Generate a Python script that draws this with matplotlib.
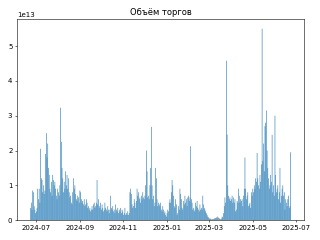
import numpy as np
import pandas as pd
import matplotlib
matplotlib.use('Agg')
import matplotlib.pyplot as plt

start_date = '2024-06-24'
# daily volume, units of 1e13 in chunks
vol_jun_jul = [0.35, 0.5, 0.3, 0.85, 0.8, 0.4, 0.3, 0.2, 0.25, 0.35, 0.9, 0.6, 0.9, 0.5, 2.05]
vol_jul_aug = [1.2, 1.15, 0.8, 1.0, 0.75, 0.85, 1.9, 2.5, 1.8, 2.2, 1.5, 1.3, 0.9, 0.8, 1.1,
               0.7, 1.3, 1.15, 1.0, 1.1, 0.9, 0.7, 0.6, 0.9, 0.8, 0.7, 1.0, 3.23, 2.25, 1.5, 1.2]
vol_aug_sep = [0.8, 1.1, 0.9, 1.4, 1.0, 1.3, 0.9, 1.2, 0.8, 0.65, 0.7, 0.5, 0.45, 0.8, 1.2, 0.9,
               1.0, 0.75, 0.6, 0.55, 0.7, 0.65, 0.5, 0.85, 0.8, 0.6, 0.5, 0.55, 0.45, 0.6, 0.4,
               0.45, 0.6, 0.5, 0.35, 0.4, 0.3, 0.35, 0.25, 0.3, 0.4, 0.3, 0.45, 0.5, 0.35, 0.4,
               0.5, 1.15]
vol_oct_nov = [0.45, 0.6, 0.4, 0.35, 0.5, 0.3, 0.45, 0.35, 0.25, 0.3, 0.5, 0.35, 0.3, 0.25,
               0.4, 0.3, 0.2, 0.3, 0.7, 0.35, 0.3, 0.4, 0.25, 0.3, 0.2, 0.45, 0.3, 0.25, 0.35,
               0.2, 0.3, 0.25, 0.35, 0.2, 0.3, 0.25, 0.15, 0.2, 0.35, 0.15, 0.2, 0.15, 0.25,
               0.15, 0.2, 0.8]
vol_nov_dec = [0.9, 0.75, 0.45, 0.35, 0.4, 0.6, 0.5, 0.35, 0.55, 0.9, 0.7, 0.8, 0.6, 0.65,
               0.5, 0.7, 0.6, 0.8, 0.65, 0.6, 0.7, 1.0, 2.0, 1.4, 0.65, 0.7, 0.6, 1.0, 1.5,
               2.68, 1.0, 0.6, 0.7, 0.4, 0.5, 1.5, 1.2, 0.6, 0.4, 0.5, 0.45, 0.4]
vol_jan_feb = [0.5, 0.3, 0.25, 0.4, 0.3, 0.2, 0.25, 0.15, 0.1, 0.2, 0.3, 0.25, 0.5, 0.6, 0.5,
               0.8, 1.15, 1.0, 0.7, 0.4, 0.35, 0.6, 0.45, 0.15, 0.2, 0.4, 0.3, 0.9, 0.75, 0.6,
               0.35, 0.3, 0.55, 0.45, 0.7, 0.5, 0.6, 0.4, 0.65, 0.7, 0.55, 0.65, 2.12]
vol_feb_mar = [0.6, 0.5, 0.3, 0.35, 0.25, 0.3, 0.5, 0.4, 0.55, 0.35, 0.3, 0.25, 0.45, 0.3,
               0.35, 0.3, 0.7, 0.45, 0.35, 0.3, 0.25, 0.2, 0.15, 0.1, 0.08, 0.05, 0.03, 0.04,
               0.02, 0.03, 0.02, 0.03, 0.05, 0.04, 0.06, 0.08, 0.05, 0.1, 0.07, 0.05, 0.03,
               0.02, 0.04, 0.1, 0.08]
vol_mar_may = [0.2, 0.4, 0.65, 0.5, 4.58, 2.46, 1.0, 0.7, 0.6, 0.65, 0.55, 0.6, 0.7, 0.5,
               0.65, 0.5, 0.6, 0.25, 0.3, 0.55, 0.5, 0.9, 0.7, 0.5, 0.6, 0.55, 0.6, 0.4, 0.7,
               0.9, 1.8, 0.9, 0.6, 0.7, 0.8, 0.4, 0.45, 0.5, 0.35, 0.8, 0.7, 0.9, 0.8, 1.0,
               0.9, 1.2, 1.1, 1.93, 1.2, 1.0, 0.9, 1.3, 1.1, 1.6]
vol_may_jun = [5.5, 1.7, 2.2, 1.4, 2.7, 2.8, 3.15, 2.0, 1.5, 1.2, 0.9, 1.0, 1.3, 1.1, 2.45,
               0.8, 1.0, 0.7, 3.0, 1.3, 0.8, 0.9, 1.0, 0.6, 0.8, 1.5, 0.5, 0.7, 0.9, 1.0, 0.7,
               0.8, 0.3, 0.6, 0.5, 0.4, 0.6, 0.7, 0.35, 0.4, 1.95]

volume = np.array(vol_jun_jul + vol_jul_aug + vol_aug_sep + vol_oct_nov + vol_nov_dec
                  + vol_jan_feb + vol_feb_mar + vol_mar_may + vol_may_jun) * 1e13
dates = pd.date_range(start_date, periods=len(volume), freq='D')

fig, ax = plt.subplots(figsize=(6.4, 4.8), dpi=50)
fig.subplots_adjust(left=0.054, right=0.95, bottom=0.083, top=0.92)
# no pixel snapping, so the thin bars get the soft look of the original
ax.bar(dates, volume, snap=False)
ax.set_title('Объём торгов')
fig.savefig('out.png')
